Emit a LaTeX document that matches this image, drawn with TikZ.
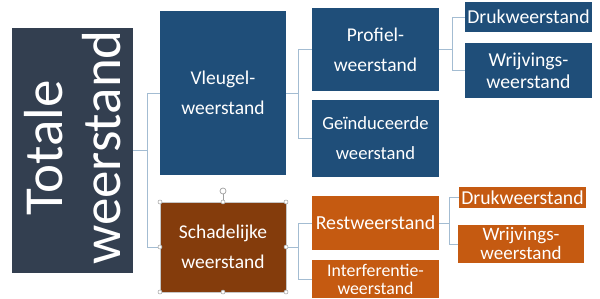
\documentclass[tikz,border=0pt]{standalone}
\usepackage{fontspec}
\setmainfont{Carlito}
\definecolor{slate}{HTML}{333F50}
\definecolor{dblue}{HTML}{1F4E79}
\definecolor{brown}{HTML}{843C0C}
\definecolor{orng}{HTML}{C55A11}
\definecolor{conn}{HTML}{A3BCD2}
\definecolor{hdl}{HTML}{A0A0A0}
\begin{document}
\begin{tikzpicture}[x=1pt,y=-1pt,
  box/.style={rectangle,inner sep=0pt,outer sep=0pt,text=white,align=center},
  bbox/.style={box,fill=dblue},
  obox/.style={box,fill=orng},
  link/.style={draw=conn,line width=0.9pt},
  handle/.style={circle,draw=hdl,fill=white,inner sep=0pt,minimum size=4pt,line width=0.5pt}]
\useasboundingbox[fill=white] (0,0) rectangle (600,299);
% boxes
\node[box,fill=slate,minimum width=121pt,minimum height=245pt] (tot) at (72.5,150.5) {};
\node[rotate=90,text=white,align=center,font=\fontsize{55}{58}\selectfont] (tottxt) at ([yshift=3pt]tot.center) {Totale\\weerstand};
\node[bbox,minimum width=126pt,minimum height=164pt,font=\fontsize{19.5}{30}\selectfont] (vleu) at (223,93) {Vleugel-\\weerstand};
\node[box,fill=brown,minimum width=126pt,minimum height=90pt,font=\fontsize{19.5}{30}\selectfont] (scha) at (223,247) {Schadelijke\\weerstand};
\node[bbox,minimum width=127pt,minimum height=83pt,font=\fontsize{19.5}{30}\selectfont] (prof) at (375.5,49.5) {Profiel-\\weerstand};
\node[bbox,minimum width=127pt,minimum height=77pt,font=\fontsize{18.6}{30}\selectfont] (gein) at (375.5,138.5) {Geïnduceerde\\weerstand};
\node[bbox,minimum width=127pt,minimum height=30pt,font=\fontsize{19.7}{22}\selectfont] (druka) at (528.5,17) {Drukweerstand};
\node[bbox,minimum width=127pt,minimum height=55pt,font=\fontsize{19.7}{22}\selectfont] (wrija) at (528.5,70.5) {Wrijvings-\\weerstand};
\node[obox,minimum width=127pt,minimum height=54pt,font=\fontsize{19.9}{22}\selectfont] (rest) at (375.5,223) {Restweerstand};
\node[obox,minimum width=127pt,minimum height=38pt,font=\fontsize{17.8}{18}\selectfont] (inter) at (375.5,279) {Interferentie-\\weerstand};
\node[obox,minimum width=127pt,minimum height=21pt,font=\fontsize{19.7}{20}\selectfont] (drukb) at (522.5,197.5) {Drukweerstand};
\node[obox,minimum width=126pt,minimum height=38pt,font=\fontsize{19}{19}\selectfont] (wrijb) at (521,244) {Wrijvings-\\weerstand};
% connectors
\draw[link] (tot.east) -- ++(14,0) coordinate (j1) |- (vleu.west);
\draw[link] (j1) |- (scha.west);
\draw[link] (vleu.east) -- ++(12,0) coordinate (j2) |- (prof.west);
\draw[link] (j2) |- (gein.west);
\draw[link] (prof.east) -- ++(13,0) coordinate (j3) |- (druka.west);
\draw[link] (j3) |- (wrija.west);
\draw[link] (scha.east) -- ++(12,0) coordinate (j4) |- (rest.west);
\draw[link] (j4) |- (inter.west);
\draw[link] (rest.east) -- ++(10,0) coordinate (j5) |- (drukb.west);
\draw[link] (j5) |- (wrijb.west);
% selection handles on Schadelijke weerstand
\draw[hdl!60,line width=0.4pt] (scha.north west) rectangle (scha.south east);
\coordinate (rot) at ([yshift=11pt]scha.north);
\draw[hdl,line width=0.5pt] (scha.north) -- (rot);
\node[circle,draw=hdl,fill=white,inner sep=0pt,minimum size=6pt,line width=0.7pt] (roth) at (rot) {};
\foreach \a in {north west,north,north east,east,south east,south,south west,west}
  \node[handle] at (scha.\a) {};
\end{tikzpicture}
\end{document}
